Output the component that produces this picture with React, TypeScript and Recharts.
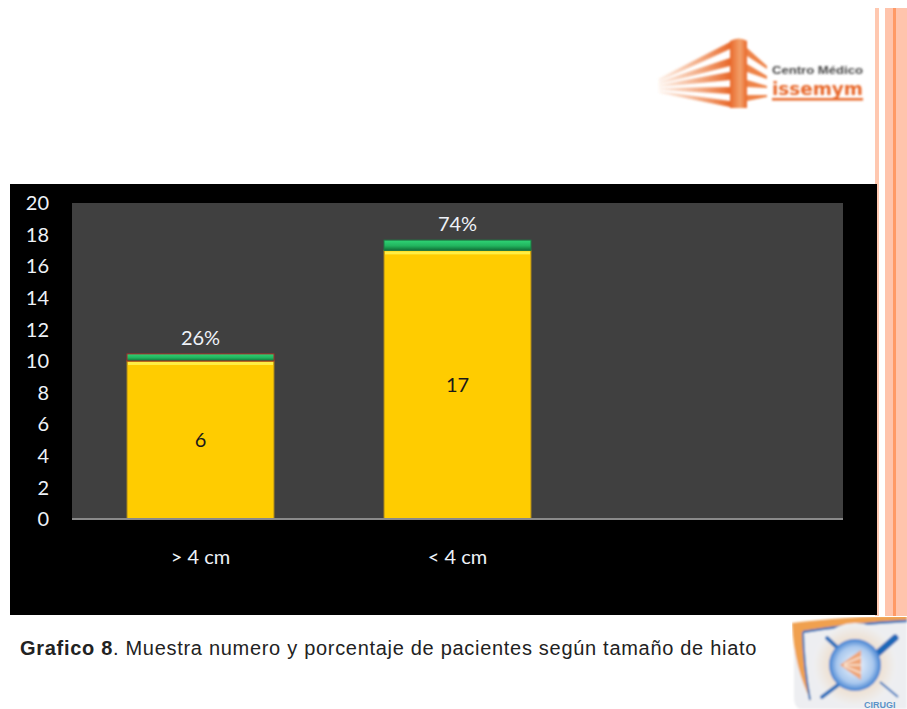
import { BarChart, Bar, XAxis, YAxis, CartesianGrid, LabelList } from 'recharts';

const categories = ['> 4 cm', '< 4 cm', ''];
const yellowValues = [10, 17, null];
const greenValues = [0.45, 0.65, null];
const countLabels = ['6', '17', ''];
const percentLabels = ['26%', '74%', ''];
const yTicks = [0, 2, 4, 6, 8, 10, 12, 14, 16, 18, 20];

const data = categories.map((name, i) => ({
  name,
  yellow: yellowValues[i],
  green: greenValues[i],
  count: countLabels[i],
  percent: percentLabels[i],
}));

const chartFont = 'Lato, "Open Sans", sans-serif';
const tickStyle = { fill: '#EEF2F8', fontSize: 20, fontFamily: chartFont };

// top highlight plus dark edge, like the Excel bevel
function YellowBar({ x, y, width, height }: any) {
  if (!height) return null;
  return (
    <g>
      <rect x={x} y={y} width={width} height={height} fill="#FFCC00" stroke="#A8861E" strokeWidth={1} />
      <rect x={x + 1} y={y + 1} width={width - 2} height={3} fill="#FFEE44" />
    </g>
  );
}

function GreenBar({ x, y, width, height, index }: any) {
  if (!height) return null;
  return (
    <rect
      x={x}
      y={y}
      width={width}
      height={height}
      fill="url(#greenGrad)"
      stroke={index === 0 ? '#A52A2A' : '#1E7A45'}
      strokeWidth={1}
    />
  );
}

function TopLogo() {
  return (
    <svg width={218} height={80} style={{ position: 'absolute', left: 655, top: 34 }}>
      <defs>
        <linearGradient id="rayGrad" x1="0" y1="0" x2="1" y2="0">
          <stop offset="0%" stopColor="#F08A4B" stopOpacity={0.1} />
          <stop offset="100%" stopColor="#E8682A" />
        </linearGradient>
        <linearGradient id="towerGrad" x1="0" y1="0" x2="1" y2="0">
          <stop offset="0%" stopColor="#E8682A" />
          <stop offset="60%" stopColor="#F3A06A" />
          <stop offset="100%" stopColor="#E8682A" />
        </linearGradient>
        <filter id="soft"><feGaussianBlur stdDeviation="0.8" /></filter>
      </defs>
      <g filter="url(#soft)">
        <polygon points="3,45 75,8 75,15 5,47" fill="url(#rayGrad)" />
        <polygon points="3,48 75,24 75,32 5,50" fill="url(#rayGrad)" />
        <polygon points="3,51 75,38 75,46 5,53" fill="url(#rayGrad)" />
        <polygon points="3,54 75,53 75,60 5,56" fill="url(#rayGrad)" />
        <polygon points="3,57 75,67 75,73 5,59" fill="url(#rayGrad)" />
        <path d="M75,7 Q84,2 92,7 L92,74 L75,74 Z" fill="url(#towerGrad)" />
        <polygon points="92,14 112,32 112,35 92,22" fill="#EE8246" />
        <polygon points="92,30 112,42 112,45 92,38" fill="#EE8246" />
        <polygon points="92,46 112,52 112,54 92,53" fill="#EE8246" />
        <polygon points="92,61 112,61 112,63 92,67" fill="#EE8246" />
        <rect x={117} y={64} width={91} height={2.5} fill="#E8682A" />
        <text x={117} y={40} fontFamily="Liberation Sans" fontWeight={700} fontSize={10.5} fill="#444" textLength={91} lengthAdjust="spacingAndGlyphs">Centro Médico</text>
        <text x={117} y={61} fontFamily="DejaVu Sans" fontWeight={700} fontSize={18} fill="#E8682A" textLength={91} lengthAdjust="spacingAndGlyphs">issemym</text>
      </g>
    </svg>
  );
}

function BottomLogo() {
  return (
    <svg width={115} height={92} style={{ position: 'absolute', left: 792, top: 617 }}>
      <defs>
        <radialGradient id="sphere">
          <stop offset="0%" stopColor="#F4F8FD" />
          <stop offset="70%" stopColor="#A9C8EE" />
          <stop offset="100%" stopColor="#3F7FD0" />
        </radialGradient>
        <radialGradient id="halo">
          <stop offset="0%" stopColor="#F0C8A0" />
          <stop offset="100%" stopColor="#EEF0F3" />
        </radialGradient>
        <filter id="soft2"><feGaussianBlur stdDeviation="0.9" /></filter>
      </defs>
      <g filter="url(#soft2)">
        <path d="M2,6 Q50,2 115,1 L115,92 L8,92 Q2,90 2,80 Z" fill="#EDEEF1" />
        <path d="M0,6 Q50,0 115,-2 L115,4 Q60,7 11,15 Q12,50 19,84 Q2,50 0,6 Z" fill="#F0A050" />
        <path d="M11,15 Q60,7 115,4" stroke="#2F72BC" strokeWidth={2.5} fill="none" />
        <path d="M11,15 Q12,50 18,83" stroke="#2F72BC" strokeWidth={2} fill="none" />
        <circle cx={63} cy={48} r={42} fill="url(#halo)" />
        <line x1={35} y1={21} x2={50} y2={35} stroke="#2F72BC" strokeWidth={4} strokeLinecap="round" />
        <line x1={88} y1={65} x2={106} y2={80} stroke="#2F72BC" strokeWidth={2} />
        <line x1={30} y1={80} x2={46} y2={68} stroke="#2F72BC" strokeWidth={4} strokeLinecap="round" />
        <line x1={86} y1={36} x2={103} y2={21} stroke="#1F68B8" strokeWidth={7} strokeLinecap="round" />
        <circle cx={63} cy={48} r={26} fill="url(#sphere)" />
        <polygon points="48,48 69,33 69,63" fill="#EFA678" />
        <line x1={52} y1={47} x2={69} y2={40} stroke="#F8E4D4" strokeWidth={1.5} />
        <line x1={52} y1={48} x2={69} y2={48} stroke="#F8E4D4" strokeWidth={1.5} />
        <line x1={52} y1={49} x2={69} y2={56} stroke="#F8E4D4" strokeWidth={1.5} />
      </g>
      <text x={72} y={91} fontFamily="Liberation Sans" fontWeight={700} fontSize={9} fill="#5C93C8">CIRUGI</text>
    </svg>
  );
}

export default function App() {
  return (
    <div style={{ position: 'absolute', left: 0, top: 0, width: 907, height: 709, background: '#fff', overflow: 'hidden' }}>
      {/* right-hand slide stripes */}
      <div style={{ position: 'absolute', left: 875, top: 8, width: 4, height: 608, background: '#FFC8B0' }} />
      <div style={{ position: 'absolute', left: 885, top: 8, width: 22, height: 608, background: '#FFC4AC' }} />
      <div style={{ position: 'absolute', left: 893, top: 8, width: 3, height: 608, background: '#FF9A66' }} />

      <TopLogo />

      <div style={{ position: 'absolute', left: 10, top: 184 }}>
        <BarChart
          width={867}
          height={431}
          data={data}
          barCategoryGap={55}
          margin={{ top: 19, right: 34, bottom: 66, left: 30 }}
          style={{ background: '#000' }}
        >
          <defs>
            <linearGradient id="greenGrad" x1="0" y1="0" x2="0" y2="1">
              <stop offset="0%" stopColor="#2FD576" />
              <stop offset="55%" stopColor="#22B45E" />
              <stop offset="100%" stopColor="#0F6E35" />
            </linearGradient>
          </defs>
          <CartesianGrid fill="#404040" horizontal={false} vertical={false} />
          <XAxis
            dataKey="name"
            interval={0}
            axisLine={{ stroke: '#8A8A8A', strokeWidth: 2 }}
            tickLine={false}
            tickMargin={25}
            tick={tickStyle}
          />
          <YAxis
            domain={[0, 20]}
            ticks={yTicks}
            interval={0}
            width={32}
            axisLine={false}
            tickLine={false}
            tickMargin={17}
            tick={tickStyle}
          />
          <Bar dataKey="yellow" stackId="a" isAnimationActive={false} shape={<YellowBar />}>
            <LabelList dataKey="count" position="center" fill="#1A1A1A" fontSize={20} fontFamily={chartFont} />
          </Bar>
          <Bar dataKey="green" stackId="a" isAnimationActive={false} shape={<GreenBar />}>
            <LabelList dataKey="percent" position="top" offset={9} fill="#EEF2F8" fontSize={20} fontFamily={chartFont} />
          </Bar>
        </BarChart>
      </div>

      <div style={{ position: 'absolute', left: 20, top: 637, fontFamily: '"Liberation Sans", sans-serif', fontSize: 20, color: '#222', whiteSpace: 'nowrap', letterSpacing: 0.7 }}>
        <b>Grafico 8</b>. Muestra numero y porcentaje de pacientes según tamaño de hiato
      </div>

      <BottomLogo />
    </div>
  );
}
